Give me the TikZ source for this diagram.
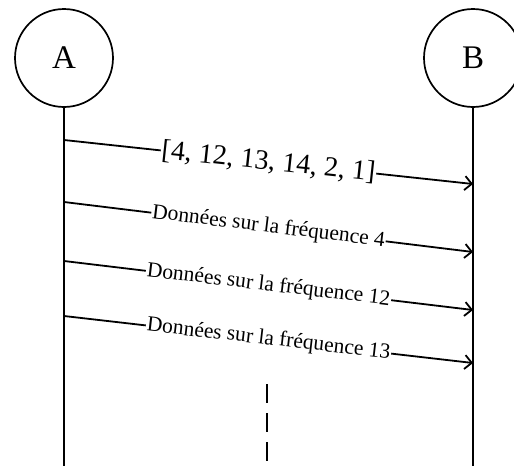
\documentclass[tikz,border=0pt]{standalone}
\usepackage{fontspec}
\setmainfont{Liberation Serif}
\usetikzlibrary{arrows.meta}
\begin{document}
\begin{tikzpicture}[x=1pt,y=-1pt,
  actor/.style={draw,circle,line width=1.7pt,minimum size=98pt,inner sep=0pt,font=\fontsize{33}{36}\selectfont},
  life/.style={line width=1.8pt},
  msg/.style={line width=1.8pt,-{Straight Barb[length=7pt,width=14pt,line width=1.8pt]}},
  lbl/.style={midway,sloped,fill=white,inner xsep=1pt,inner ysep=0pt},
  big/.style={font=\fontsize{28}{30}\selectfont},
  small/.style={font=\fontsize{21.5}{24}\selectfont},
]
\useasboundingbox (0,0) rectangle (514,466);
\node[actor] (A) at (64,58) {A};
\node[actor] (B) at (473,58) {B};
\coordinate (Aend) at (64,466);
\coordinate (Bend) at (473,466);
\draw[life] (A.south) -- (Aend);
\draw[life] (B.south) -- (Bend);
\coordinate (a1) at (64,140); \coordinate (b1) at (473,184);
\coordinate (a2) at (64,202); \coordinate (b2) at (473,252);
\coordinate (a3) at (64,261); \coordinate (b3) at (473,310);
\coordinate (a4) at (64,316); \coordinate (b4) at (473,363);
\draw[msg] (a1) -- node[lbl,big] (m1) {[4, 12, 13, 14, 2, 1]} (b1);
\draw[msg] (a2) -- node[lbl,small] (m2) {Données sur la fréquence 4} (b2);
\draw[msg] (a3) -- node[lbl,small] (m3) {Données sur la fréquence 12} (b3);
\draw[msg] (a4) -- node[lbl,small] (m4) {Données sur la fréquence 13} (b4);
\coordinate (d1) at (267,384); \coordinate (d2) at (267,466);
\draw[line width=1.8pt,dash pattern=on 19pt off 10pt] (d1) -- (d2);
\end{tikzpicture}
\end{document}
